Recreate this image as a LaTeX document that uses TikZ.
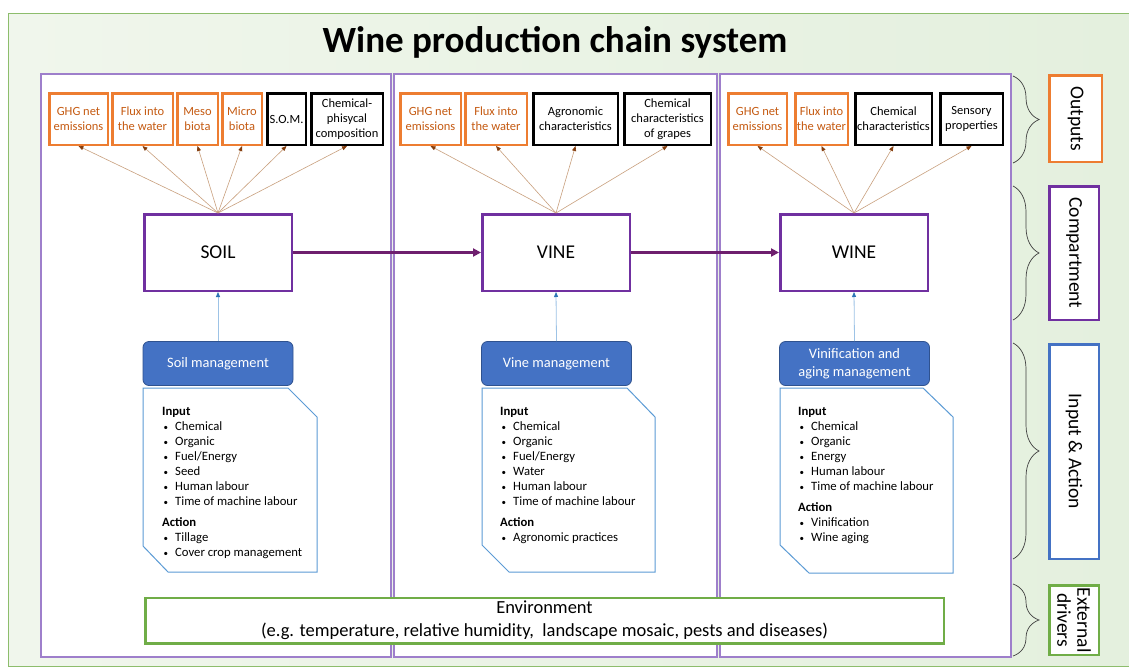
\documentclass[tikz,border=0pt]{standalone}
\usepackage{fontspec}
\setmainfont{Carlito}
\usetikzlibrary{arrows.meta,decorations.pathreplacing}
\definecolor{orgc}{HTML}{ED7D31}
\definecolor{orgtxt}{HTML}{C55A11}
\definecolor{purp}{HTML}{7030A0}
\definecolor{flowc}{HTML}{6E1F6E}
\definecolor{bluef}{HTML}{4472C4}
\definecolor{blueb}{HTML}{2F528F}
\definecolor{snipc}{HTML}{5B9BD5}
\definecolor{grn}{HTML}{70AD47}
\definecolor{panelc}{HTML}{9E7FCB}
\definecolor{tanc}{HTML}{C9A07E}
\definecolor{brownh}{HTML}{843C0C}
\definecolor{lblue}{HTML}{9DC3E6}
\definecolor{dblue}{HTML}{2E75B6}
\definecolor{bgA}{HTML}{F0F6EC}
\definecolor{bgB}{HTML}{D3E8CA}
\definecolor{bgC}{HTML}{E4F0DE}
\definecolor{bracec}{HTML}{404040}
\newcommand\bul{\makebox[13pt][l]{\hspace{1.5pt}\raisebox{0.8pt}{\fontsize{9}{9}\selectfont\textbullet}}}
\begin{document}
\begin{tikzpicture}[x=1pt,y=-1pt,
  panel/.style={draw=panelc, line width=1.2pt, fill=white},
  obox/.style={draw=orgc, line width=2.5pt, fill=white, text=orgtxt, align=center, inner sep=0pt, minimum height=51.5pt, font=\fontsize{12.5}{15}\selectfont},
  kbox/.style={obox, draw=black, text=black},
  comp/.style={draw=purp, line width=2.5pt, fill=white, minimum width=147.5pt, minimum height=76.5pt, font=\fontsize{19.5}{22}\selectfont},
  mgmt/.style={draw=blueb, line width=0.8pt, fill=bluef, rounded corners=6pt, text=white, minimum width=150pt, minimum height=44pt, align=center, inner sep=0pt, font=\fontsize{14.4}{17.5}\selectfont},
  outarr/.style={draw=tanc, line width=0.6pt, -{Triangle[length=5pt,width=4pt,color=brownh]}},
  mgarr/.style={draw=lblue, line width=0.8pt, -{Triangle[length=5pt,width=4pt,color=dblue]}},
  flow/.style={draw=flowc, line width=2.5pt, -{Triangle[length=8pt,width=8pt]}},
  snip/.style={draw=snipc, line width=1pt, fill=white},
  listtxt/.style={anchor=north west, inner sep=0pt, align=left, font=\fontsize{12.7}{15}\selectfont},
  side/.style={line width=2.5pt, fill=white, rotate=-90, align=center, inner sep=0pt, font=\fontsize{19.5}{20}\selectfont},
  brc/.style={draw=bracec, line width=0.7pt, decorate, decoration={brace, amplitude=26pt}}
]
\useasboundingbox (0,0) rectangle (1129,669);
\fill[white] (0,0) rectangle (1129,669);
\shade[left color=bgA, middle color=bgB, right color=bgC] (8,14) rectangle (1129,666);
\draw[grn!80, line width=1pt] (1129,14) -- (8,14) -- (8,666) -- (1129,666);

\node[font=\fontsize{37}{40}\selectfont\bfseries] (title) at (555,42) {Wine production chain system};

% panels
\draw[panel] (41,74) rectangle (391,657);
\draw[panel] (394,74) rectangle (717,657);
\draw[panel] (720,74) rectangle (1011,657);

% outputs panel 1
\node[obox, minimum width=58.5pt] (o11) at (78.5,119) {GHG net\\emissions};
\node[obox, minimum width=60.5pt] (o12) at (142.5,119) {Flux into\\the water};
\node[obox, minimum width=40.5pt] (o13) at (197.5,119) {Meso\\biota};
\node[obox, minimum width=39.5pt] (o14) at (242,119) {Micro\\biota};
\node[kbox, minimum width=38.5pt] (o15) at (286.5,119) {S.O.M.};
\node[kbox, minimum width=71.5pt] (o16) at (347,119) {Chemical-\\phisycal\\composition};
% outputs panel 2
\node[obox, minimum width=60.5pt] (o21) at (430.5,119) {GHG net\\emissions};
\node[obox, minimum width=61.5pt] (o22) at (496,119) {Flux into\\the water};
\node[kbox, minimum width=84.5pt] (o23) at (575.5,119) {Agronomic\\characteristics};
\node[kbox, minimum width=86.5pt] (o24) at (667.5,119) {Chemical\\characteristics\\of grapes};
% outputs panel 3
\node[obox, minimum width=58.5pt] (o31) at (757.5,119) {GHG net\\emissions};
\node[obox, minimum width=52.5pt] (o32) at (821.5,119) {Flux into\\the water};
\node[kbox, minimum width=76.5pt] (o33) at (893.5,119) {Chemical\\characteristics};
\node[kbox, minimum width=62.5pt] (o34) at (971.5,119) {Sensory\\properties};

% compartments
\node[comp] (soil) at (218,252.5) {SOIL};
\node[comp] (vine) at (556,252.5) {VINE};
\node[comp] (wine) at (854,252.5) {WINE};

\foreach \o in {o11,o12,o13,o14,o15,o16} \draw[outarr] (soil.north) -- (\o.south);
\foreach \o in {o21,o22,o23,o24} \draw[outarr] (vine.north) -- (\o.south);
\foreach \o in {o31,o32,o33,o34} \draw[outarr] (wine.north) -- (\o.south);

\draw[flow] (soil.east) -- (vine.west);
\draw[flow] (vine.east) -- (wine.west);

% management
\node[mgmt] (soilm) at (218,363.5) {Soil management};
\node[mgmt] (vinem) at (556.5,363.5) {Vine management};
\node[mgmt] (winem) at (854.5,363.5) {Vinification and\\aging management};
\draw[mgarr] (soilm.north) -- (soil.south);
\draw[mgarr] (vinem.north) -- (vine.south);
\draw[mgarr] (winem.north) -- (wine.south);

% snip boxes
\draw[snip] (143,388) -- (288,388) -- (317,417) -- (317,572) -- (168,572) -- (143,546) -- cycle;
\draw[snip] (482,388) -- (627,388) -- (655,417) -- (655,572) -- (509,572) -- (482,545) -- cycle;
\draw[snip] (780,388) -- (923,388) -- (953,417) -- (953,573) -- (809,573) -- (780,545) -- cycle;

\node[listtxt] (soill) at (162,407.5) {\textbf{Input}\\\bul Chemical\\\bul Organic\\\bul Fuel/Energy\\\bul Seed\\\bul Human labour\\\bul Time of machine labour\\[6pt]\textbf{Action}\\\bul Tillage\\\bul Cover crop management};
\node[listtxt] (vinel) at (500,407.5) {\textbf{Input}\\\bul Chemical\\\bul Organic\\\bul Fuel/Energy\\\bul Water\\\bul Human labour\\\bul Time of machine labour\\[6pt]\textbf{Action}\\\bul Agronomic practices};
\node[listtxt] (winel) at (798,407.5) {\textbf{Input}\\\bul Chemical\\\bul Organic\\\bul Energy\\\bul Human labour\\\bul Time of machine labour\\[6pt]\textbf{Action}\\\bul Vinification\\\bul Wine aging};

% environment
\node[draw=grn, line width=2.5pt, fill=white, minimum width=798.5pt, minimum height=45.5pt, align=center, inner sep=0pt, font=\fontsize{18.5}{23}\selectfont] (env) at (544.5,620.5) {Environment\\(e.g. temperature, relative humidity,\ \ landscape mosaic, pests and diseases)};

% side labels
\node[side, draw=orgc, minimum width=86.5pt, minimum height=52.5pt] (lout) at (1075.5,118.5) {Outputs};
\node[side, draw=purp, minimum width=133.5pt, minimum height=49.5pt] (lcomp) at (1074,253) {Compartment};
\node[side, draw=bluef, minimum width=214.5pt, minimum height=49.5pt] (linp) at (1074,451.5) {Input \& Action};
\node[side, draw=grn, minimum width=69.5pt, minimum height=49.5pt] (lext) at (1074,620) {External\\drivers};

\draw[brc] (1013,76) -- (1013,163);
\draw[brc] (1013,186) -- (1013,320);
\draw[brc] (1013,343) -- (1013,559);
\draw[brc] (1013,584) -- (1013,656);
\end{tikzpicture}
\end{document}
